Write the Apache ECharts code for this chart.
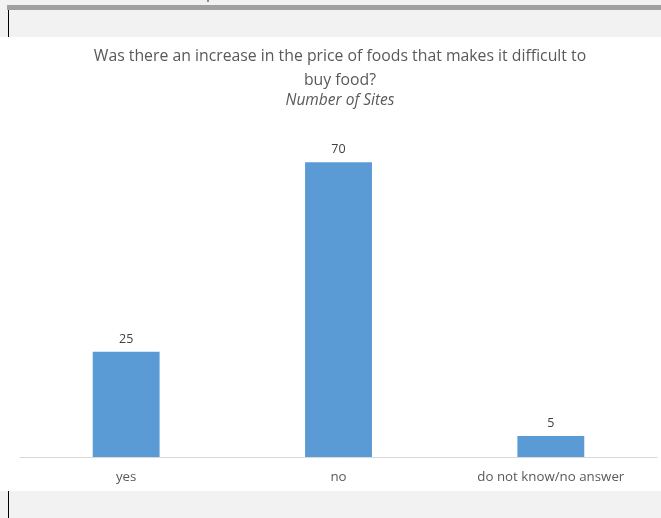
<!DOCTYPE html>
<html><head><meta charset="utf-8">
<script src="https://cdn.jsdelivr.net/npm/echarts@6/dist/echarts.min.js"></script>
<style>html,body{margin:0;padding:0;background:#fff}#c{width:661px;height:518px}</style>
</head><body><div id="c"></div>
<script>
const categories = ['yes', 'no', 'do not know/no answer'];
const values = [25, 70, 5];
const titleLines = ['Was there an increase in the price of foods that makes it difficult to', 'buy food?'];
const subtitle = 'Number of Sites';

const chart = echarts.init(document.getElementById('c'), null, {renderer: 'canvas'});
const font = '"Open Sans", "Noto Sans", sans-serif';
chart.setOption({
  backgroundColor: '#ffffff',
  animation: false,
  title: {
    text: titleLines.join('\n'),
    subtext: subtitle,
    left: 335, top: 39, textAlign: 'center',
    itemGap: 0,
    textStyle: {fontFamily: font, fontSize: 15.8, fontWeight: 'normal', color: '#595959', lineHeight: 24},
    subtextStyle: {fontFamily: font, fontSize: 15.5, fontStyle: 'italic', color: '#595959', lineHeight: 18}
  },
  graphic: [
    {type: 'rect', shape: {x: 0, y: 0, width: 661, height: 37}, style: {fill: '#f2f2f2'}, z: -10},
    {type: 'rect', shape: {x: 7, y: 5, width: 654, height: 5}, style: {fill: '#a0a0a0'}, z: -9},
    {type: 'rect', shape: {x: 8, y: 10, width: 1, height: 27}, style: {fill: '#000000'}, z: -9},
    {type: 'rect', shape: {x: 207, y: 0, width: 2, height: 2}, style: {fill: '#8a8a8a'}, z: -9},
    {type: 'rect', shape: {x: 0, y: 491, width: 661, height: 27}, style: {fill: '#f2f2f2'}, z: -10},
    {type: 'rect', shape: {x: 8, y: 491, width: 1, height: 27}, style: {fill: '#000000'}, z: -9}
  ],
  grid: {left: 20, right: 4, top: 120, bottom: 61, containLabel: false},
  xAxis: {
    type: 'category', data: categories,
    axisLine: {show: true, lineStyle: {color: '#d9d9d9', width: 1}},
    axisTick: {show: false},
    axisLabel: {fontFamily: font, fontSize: 13.3, color: '#595959', margin: 14}
  },
  yAxis: {
    type: 'value', min: 0, max: 80, show: false,
    splitLine: {show: false}
  },
  series: [{
    type: 'bar', data: values, barWidth: '31.5%',
    itemStyle: {color: '#5b9bd5'},
    label: {show: true, position: 'top', distance: 6, fontFamily: font, fontSize: 12.5, color: '#404040'}
  }]
});
</script></body></html>
